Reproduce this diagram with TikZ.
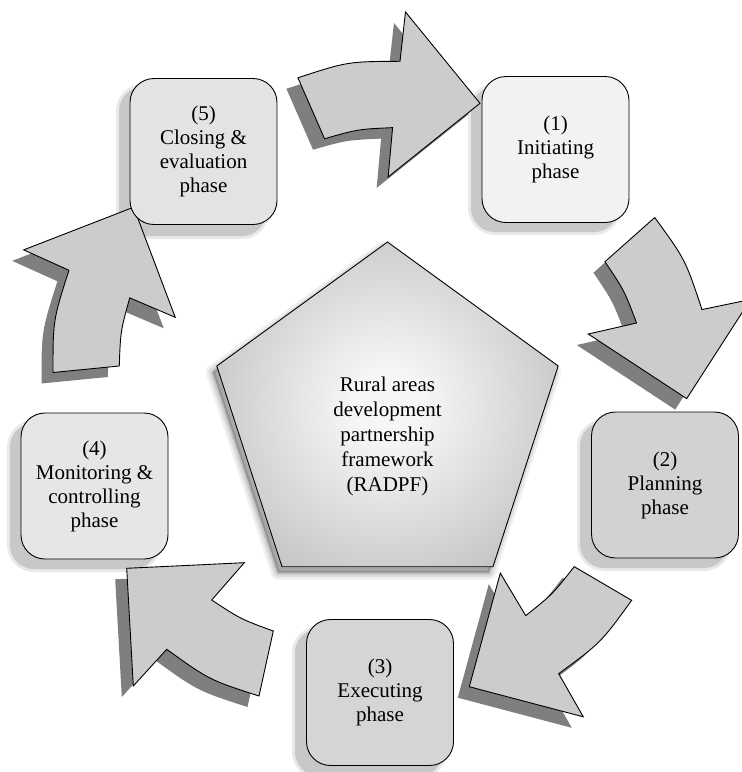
\documentclass[tikz,border=0pt]{standalone}
\usepackage{fontspec}
\setmainfont{Liberation Serif}
\definecolor{arrfill}{HTML}{CCCCCC}
\definecolor{arrshad}{HTML}{7F7F7F}
\definecolor{bshadcol}{HTML}{C8C8C8}
\definecolor{bone}{HTML}{F2F2F2}
\definecolor{btwo}{HTML}{D2D2D2}
\definecolor{bthree}{HTML}{D5D5D5}
\definecolor{bfour}{HTML}{E6E6E6}
\definecolor{bfive}{HTML}{E3E3E3}
\definecolor{pcA}{HTML}{F6F6F6}
\definecolor{pcB}{HTML}{D9D9D9}
\definecolor{pcC}{HTML}{B0B0B0}
\definecolor{pcD}{HTML}{999999}
\definecolor{pcE}{HTML}{8E8E8E}
\pgfdeclareradialshading{pentshade}{\pgfpoint{0bp}{0bp}}{color(0bp)=(pcA); color(4bp)=(pcA); color(15bp)=(pcB); color(30bp)=(pcC); color(40bp)=(pcD); color(50bp)=(pcE)}
\begin{document}
\begin{tikzpicture}[x=1pt,y=-1pt,
  arrbody/.style={fill=arrfill, draw=black, line width=0.9pt, line join=miter},
  arrshadow/.style={fill=arrshad},
  phasebox/.style={draw=black, line width=0.9pt, rounded corners=24pt, minimum width=147pt, minimum height=146pt, inner sep=0pt, align=center, font=\fontsize{21}{24}\selectfont},
  bshadow/.style={fill=bshadcol, rounded corners=24pt},
  bshadowsoft/.style={fill=bshadcol, draw=bshadcol, line width=6pt, opacity=0.4, rounded corners=24pt},
  centretext/.style={align=center, font=\fontsize{21}{25}\selectfont, inner sep=0pt}]
\useasboundingbox (0,0) rectangle (742,772);
\clip (0,0) rectangle (742,772);
% box shadows
\foreach \xa/\ya/\xb/\yb in {482/77/629/222, 591/412/739/558, 306/619/454/766, 21/413/168/559, 130/77/277/226}{
  \filldraw[bshadowsoft] (\xa-11,\ya+10) rectangle (\xb-11,\yb+10);
  \fill[bshadow] (\xa-11,\ya+10) rectangle (\xb-11,\yb+10);
}
% curved block arrows
\foreach \tx/\ty/\ang in {480/103.3/-144, 686.7/398.6/-216, 469.3/686.7/-288, 126.7/568.3/0, 133.6/207.2/-72}{
  \begin{scope}[shift={(\tx-11.5,\ty+11)}, rotate=\ang]
    \fill[arrshadow] (0,0) -- (117.6,-5.6) -- (85,31.7) .. controls (114,50.8) .. (146.6,62.7) -- (132.3,127.7) .. controls (82.6,111.6) .. (40,81) -- (6.6,117.7) -- cycle;
  \end{scope}
  \begin{scope}[shift={(\tx,\ty)}, rotate=\ang]
    \filldraw[arrbody] (0,0) -- (117.6,-5.6) -- (85,31.7) .. controls (114,50.8) .. (146.6,62.7) -- (132.3,127.7) .. controls (82.6,111.6) .. (40,81) -- (6.6,117.7) -- cycle;
  \end{scope}
}
% phase boxes
\node[phasebox, fill=bone]   (b1) at (555.5,149.5) {(1)\\Initiating\\phase};
\node[phasebox, fill=btwo]   (b2) at (665,485)     {(2)\\Planning\\phase};
\node[phasebox, fill=bthree] (b3) at (380,692.5)   {(3)\\Executing\\phase};
\node[phasebox, fill=bfour]  (b4) at (94.5,486)    {(4)\\Monitoring \&\\controlling\\phase};
\node[phasebox, fill=bfive]  (b5) at (203.5,151.5) {(5)\\Closing \&\\evaluation\\phase};
% pentagon shadow
\foreach \w/\o in {14/0.06, 9/0.08, 4/0.12}{
  \filldraw[black, opacity=\o, line width=\w pt, line join=round]
    (383.5,248) -- (554.2,372) -- (489,572.7) -- (278,572.7) -- (212.8,372) -- cycle;
}
% pentagon
\begin{scope}
  \clip (387.5,242) -- (558.2,366) -- (493,566.7) -- (282,566.7) -- (216.8,366) -- cycle;
  \shade[shading=pentshade] (387.5,405) circle (215);
\end{scope}
\draw[line width=0.9pt, line join=miter] (387.5,242) -- (558.2,366) -- (493,566.7) -- (282,566.7) -- (216.8,366) -- cycle;
\node[centretext] (c) at (387.5,436) {Rural areas\\development\\partnership\\framework\\(RADPF)};
\end{tikzpicture}
\end{document}
